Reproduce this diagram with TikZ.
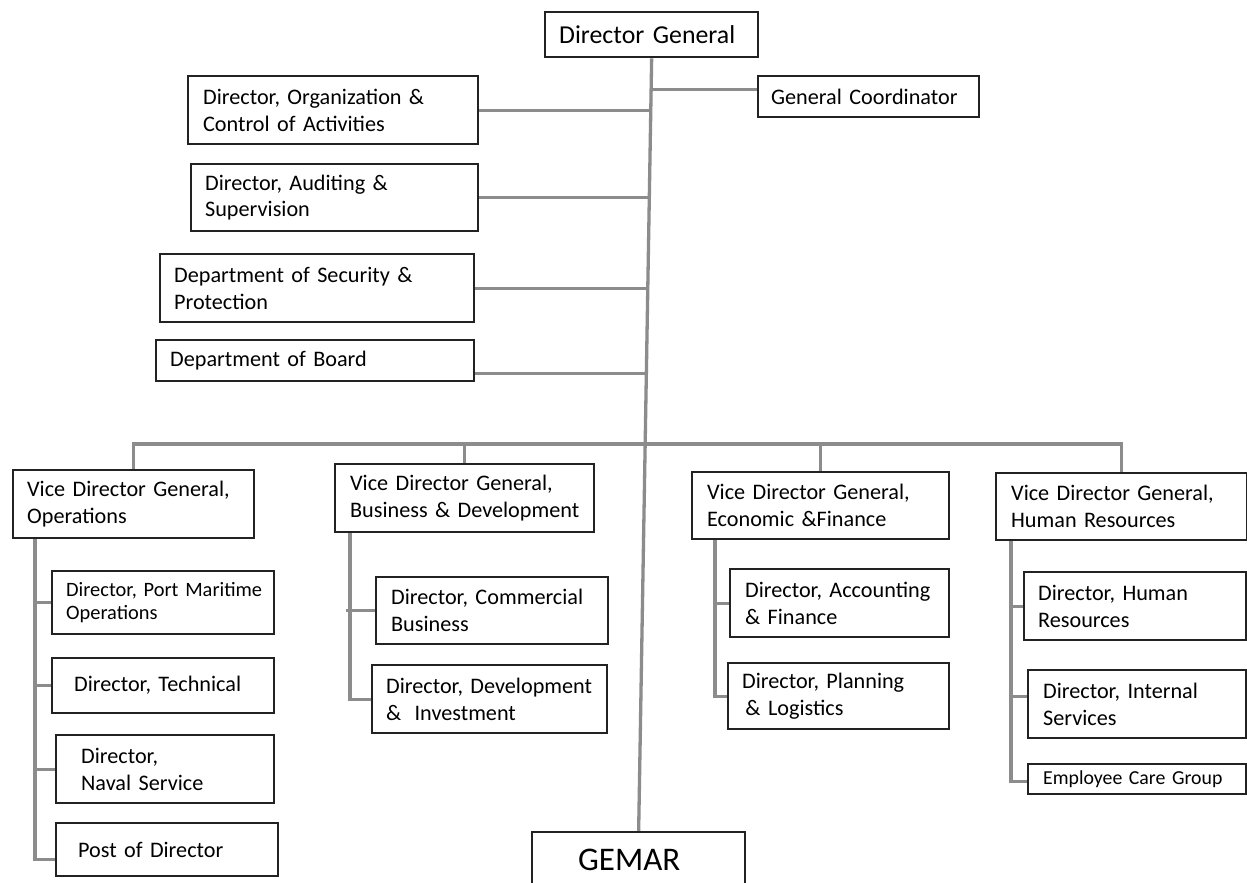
\documentclass[tikz,border=0pt]{standalone}
\usepackage{fontspec}
\setmainfont[WordSpace=0.85]{Carlito}
\usetikzlibrary{calc}
\definecolor{boxline}{HTML}{222222}
\definecolor{linkgray}{HTML}{8C8C8C}
\pgfdeclarelayer{paper}
\pgfdeclarelayer{links}
\pgfsetlayers{paper,links,main}
\tikzset{
  box/.style={draw=boxline, line width=2.3pt, fill=white, anchor=north west,
    align=left, inner xsep=14pt, inner ysep=0pt,
    font=\fontsize{22.2}{26.7}\selectfont},
  smalltext/.style={font=\fontsize{20.4}{23.5}\selectfont},
  link/.style={draw=linkgray, line width=3.3pt},
}
\begin{document}
\begin{tikzpicture}[x=1pt, y=-1pt]
\useasboundingbox (0,0) rectangle (1247,883);
\clip (0,0) rectangle (1247,883);
\begin{pgfonlayer}{paper}
  \fill[white] (0,0) rectangle (1247,883);
\end{pgfonlayer}

% top level
\node[box, font=\fontsize{25.8}{30}\selectfont, text width=185pt, minimum height=45pt] (dg) at (544,11) {Director General};
\node[box, inner xsep=13pt, text width=195pt, minimum height=41pt] (gc) at (757,75) {General Coordinator};
\node[box, inner xsep=15pt, text width=260pt, minimum height=68pt] (org) at (187,75) {Director, Organization \&\\Control of Activities};
\node[box, text width=259pt, minimum height=67pt] (aud) at (190,163) {Director, Auditing \&\\Supervision};
\node[box, text width=286pt, minimum height=68pt] (sec) at (159,253) {Department of Security \&\\Protection};
\node[box, text width=290pt, minimum height=41pt] (board) at (155,339) {Department of Board};
\node[box, font=\fontsize{33}{38}\selectfont, inner xsep=46pt, inner ysep=17pt, text width=121pt] (gemar) at (531,831) {GEMAR};

% vice directors
\node[box, text width=213pt, minimum height=68pt] (vops) at (12,469) {Vice Director General,\\Operations};
\node[box, inner xsep=15pt, text width=229pt, minimum height=68pt] (vbus) at (334,463) {Vice Director General,\\\mbox{Business \& Development}};
\node[box, inner xsep=15pt, text width=227pt, minimum height=67pt] (vecon) at (691,471) {Vice Director General,\\Economic \&Finance};
\node[box, inner xsep=15pt, text width=221pt, minimum height=67pt] (vhr) at (995,472) {Vice Director General,\\Human Resources};

% operations
\node[box, smalltext, text width=194pt, minimum height=63pt] (port) at (51,570) {\mbox{Director, Port Maritime}\\Operations};
\node[box, inner xsep=22pt, text width=178pt, minimum height=55pt] (tech) at (51,657) {Director, Technical};
\node[box, inner xsep=25pt, text width=168pt, minimum height=68pt] (naval) at (55,734) {Director,\\Naval Service};
\node[box, inner xsep=22pt, text width=178pt, minimum height=53pt] (post) at (55,822) {Post of Director};

% business & development
\node[box, inner xsep=15pt, text width=202pt, minimum height=67pt] (comm) at (375,576) {Director, Commercial\\Business};
\node[box, text width=207pt, minimum height=68pt] (devt) at (371,664) {\mbox{Director, Development}\\\&\hspace{0.6em}Investment};

% economic & finance
\node[box, inner xsep=15pt, text width=189pt, minimum height=68pt] (acct) at (729,568) {\mbox{Director, Accounting}\\\& Finance};
\node[box, text width=193pt, minimum height=66pt] (plan) at (727,662) {Director, Planning\\\hspace{0.15em}\& Logistics};

% human resources
\node[box, text width=194pt, minimum height=68pt] (dirhr) at (1023,571) {Director, Human\\Resources};
\node[box, inner xsep=15pt, text width=188pt, minimum height=68pt] (intsvc) at (1027,669) {Director, Internal\\Services};
\node[box, font=\fontsize{19.8}{23}\selectfont, inner xsep=15pt, text width=188pt, minimum height=30pt] (care) at (1027,763) {\mbox{Employee Care Group}};

\begin{pgfonlayer}{links}
  % main spine, from the director general down to GEMAR
  \draw[link] (dg.south) -- (gemar.north);
  % staff units branch off the spine horizontally
  \coordinate (gcl) at ([yshift=7.5pt]gc.west);
  \coordinate (bdl) at ([yshift=-12.5pt]board.east);
  \coordinate (gcs) at ($(dg.south)!(gcl)!(gemar.north)$);
  \coordinate (orgs) at ($(dg.south)!(org.east)!(gemar.north)$);
  \coordinate (auds) at ($(dg.south)!(aud.east)!(gemar.north)$);
  \coordinate (secs) at ($(dg.south)!(sec.east)!(gemar.north)$);
  \coordinate (bds) at ($(dg.south)!(bdl)!(gemar.north)$);
  \draw[link] (gcl) -- (gcl -| gcs);
  \draw[link] (org.east) -- (org.east -| orgs);
  \draw[link] (aud.east) -- (aud.east -| auds);
  \draw[link] (sec.east) -- (sec.east -| secs);
  \draw[link] (bdl) -- (bdl -| bds);

  % bus to the vice directors
  \coordinate (bus) at ($(vops.north)+(0,-25)$);
  \draw[link] (vops.north) |- (bus) -| (vhr.north);
  \draw[link] (vbus.north) -- (vbus.north |- bus);
  \draw[link] (vecon.north) -- (vecon.north |- bus);

  % operations branch
  \coordinate (opsT) at ([xshift=23pt]vops.south west);
  \draw[link] (opsT) |- ([yshift=-9.5pt]post.west);
  \foreach \n in {port,tech,naval} \draw[link] (\n.west) -- (\n.west -| opsT);

  % business branch
  \coordinate (busT) at ([xshift=16pt]vbus.south west);
  \draw[link] (busT) |- (devt.west);
  \draw[link] (comm.west) -- ([xshift=-4pt]comm.west -| busT);

  % economic branch
  \coordinate (ecoT) at ([xshift=24pt]vecon.south west);
  \draw[link] (ecoT) |- (plan.west);
  \draw[link] (acct.west) -- (acct.west -| ecoT);

  % human resources branch
  \coordinate (hrT) at ([xshift=16pt]vhr.south west);
  \draw[link] (hrT) |- ([yshift=-2pt]care.west);
  \draw[link] (dirhr.west) -- (dirhr.west -| hrT);
  \draw[link] ([yshift=8pt]intsvc.west) -- ([yshift=8pt]intsvc.west -| hrT);
\end{pgfonlayer}
\end{tikzpicture}
\end{document}
